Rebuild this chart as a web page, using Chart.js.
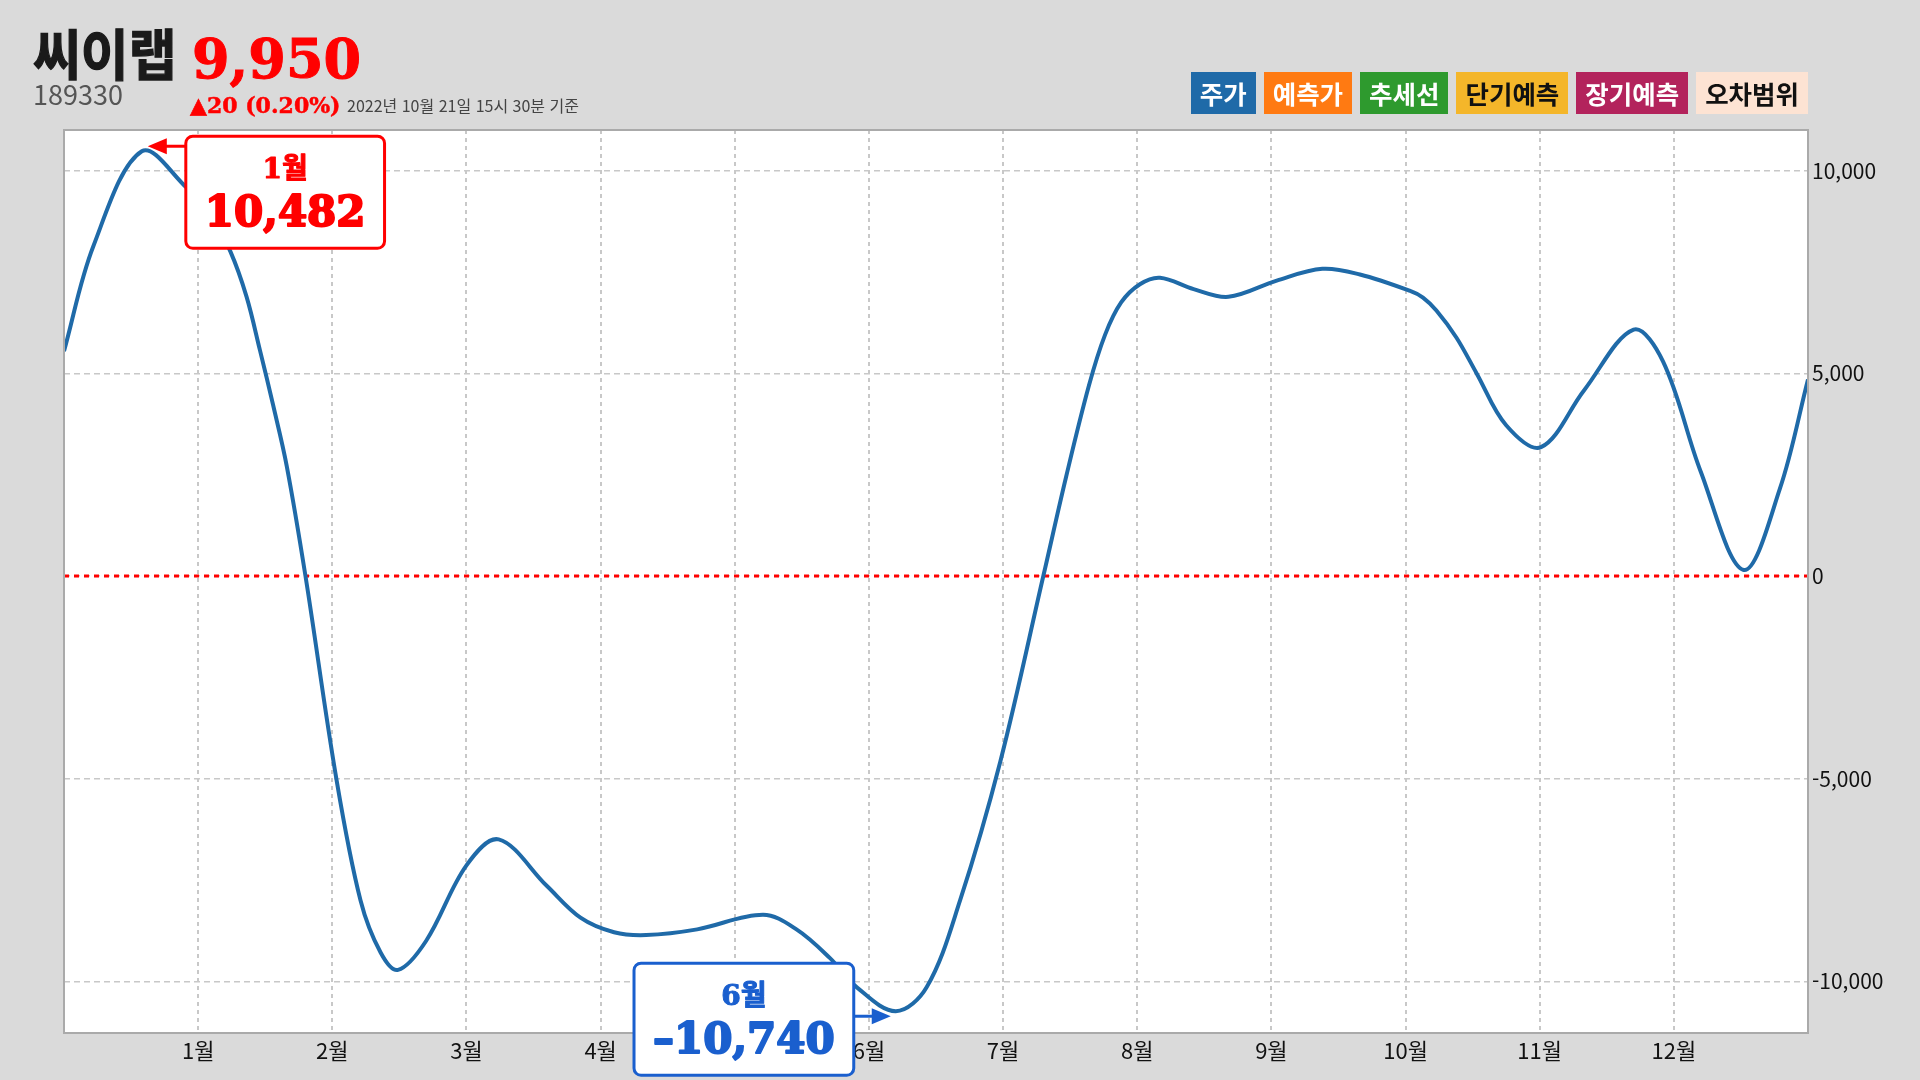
<!DOCTYPE html>
<html lang="ko">
<head>
<meta charset="utf-8">
<script src="https://cdn.jsdelivr.net/npm/chart.js@4.4.0/dist/chart.umd.min.js"></script>
<style>
html, body { margin: 0; padding: 0; background: #dadada; }
#wrap { position: relative; width: 1920px; height: 1080px; overflow: hidden; font-family: "Noto Sans CJK KR", "Noto Sans", sans-serif; }
#chart { position: absolute; left: 0; top: 0; }
.t { position: absolute; white-space: nowrap; line-height: 1; }
#name { left: 33px; top: 25px; font-size: 52px; font-weight: 700; color: #1a1a1a; -webkit-text-stroke: 1.2px #1a1a1a; transform: scale(1, 1.05); transform-origin: left top; }
#price { left: 192px; top: 32px; font-family: "DejaVu Serif", serif; font-size: 54px; font-weight: 700; color: #ff0000; -webkit-text-stroke: 1px #ff0000; }
#code { left: 33px; top: 80px; font-size: 27px; color: #555; }
#change { left: 190px; top: 94px; font-family: "DejaVu Serif", serif; font-size: 22px; font-weight: 700; color: #ff0000; -webkit-text-stroke: 0.5px #ff0000; }
#stamp { left: 347px; top: 97px; font-size: 16px; color: #444; }
#legend { position: absolute; right: 112px; top: 72px; display: flex; gap: 8px; }
#legend span { display: block; height: 42px; line-height: 42px; padding: 0 9px; font-size: 25.5px; font-weight: 700; }
</style>
</head>
<body>
<div id="wrap">
  <canvas id="chart" width="1920" height="1080"></canvas>
  <div class="t" id="name">씨이랩</div>
  <div class="t" id="price">9,950</div>
  <div class="t" id="code">189330</div>
  <div class="t" id="change">▲20 (0.20%)</div>
  <div class="t" id="stamp">2022년 10월 21일 15시 30분 기준</div>
  <div id="legend"></div>
</div>
<script>
// 월 위치(0 = 시작, 13 = 끝)와 값 - 그림에서 읽은 값
const monthPos = [0, 0.22, 0.58, 0.915, 1.09, 1.24, 1.36, 1.46, 1.56, 1.66, 1.80, 2.03, 2.21, 2.36, 2.49, 2.70, 3.0, 3.24,
    3.60, 3.85, 4.10, 4.34, 4.72, 5.21, 5.46, 5.71, 5.91, 6.20, 6.43, 6.68, 6.98, 7.30, 7.47, 7.64, 7.76, 7.88, 8.02,
    8.17, 8.42, 8.68, 9.04, 9.38, 9.66, 10.03, 10.13, 10.23, 10.38, 10.53, 10.75, 11.01, 11.33, 11.70, 11.92,
    12.20, 12.52, 12.79, 13.0];
const values = [5550, 8150, 10482, 9580, 8950, 8010, 6900, 5580, 4200, 2720, 0, -5000, -8000, -9290, -9720, -9000, -7140, -6500,
    -7650, -8430, -8790, -8860, -8720, -8360, -8720, -9430, -10150, -10740, -10150, -8000, -4570, 0, 2450, 4700, 5950, 6750, 7200,
    7360, 7080, 6890, 7290, 7580, 7440, 7040, 6870, 6550, 5880, 5000, 3720, 3180, 4580, 6080, 5290,
    2580, 150, 2150, 4850];
const monthLabels = ['1월', '2월', '3월', '4월', '5월', '6월', '7월', '8월', '9월', '10월', '11월', '12월'];
const yTicks = [-10000, -5000, 0, 5000, 10000];

const legendNames = ['주가', '예측가', '추세선', '단기예측', '장기예측', '오차범위'];
const legendColors = ['#1f6aa8', '#ff7a12', '#2e9a2e', '#f4b62a', '#b3235c', '#fde3d3'];
const legendText = ['#fff', '#fff', '#fff', '#111', '#fff', '#111'];

const legendBox = document.getElementById('legend');
legendNames.forEach((n, i) => {
    const s = document.createElement('span');
    s.textContent = n;
    s.style.background = legendColors[i];
    s.style.color = legendText[i];
    legendBox.appendChild(s);
});

const maxVal = Math.max(...values);
const minVal = Math.min(...values);

//차트 영역 흰 배경
const plotBg = {
    id: 'plotBg',
    beforeDraw(chart) {
        const { ctx, chartArea: { left, top, width, height } } = chart;
        ctx.save();
        ctx.fillStyle = '#ffffff';
        ctx.fillRect(left, top, width, height);
        ctx.restore();
    }
};

//0 기준선 (빨간 점선)
const zeroLine = {
    id: 'zeroLine',
    beforeDatasetsDraw(chart) {
        const { ctx, chartArea: { left, right }, scales: { y } } = chart;
        const yy = y.getPixelForValue(0);
        ctx.save();
        ctx.strokeStyle = '#ff0000';
        ctx.lineWidth = 3;
        ctx.setLineDash([5, 5]);
        ctx.beginPath();
        ctx.moveTo(left, yy);
        ctx.lineTo(right, yy);
        ctx.stroke();
        ctx.restore();
    }
};

//테두리
const frame = {
    id: 'frame',
    afterDatasetsDraw(chart) {
        const { ctx, chartArea: { left, top, width, height } } = chart;
        ctx.save();
        ctx.strokeStyle = '#aaaaaa';
        ctx.lineWidth = 2;
        ctx.strokeRect(left, top, width, height);
        ctx.restore();
    }
};

function roundRect(ctx, x, y, w, h, r) {
    ctx.beginPath();
    ctx.moveTo(x + r, y);
    ctx.arcTo(x + w, y, x + w, y + h, r);
    ctx.arcTo(x + w, y + h, x, y + h, r);
    ctx.arcTo(x, y + h, x, y, r);
    ctx.arcTo(x, y, x + w, y, r);
    ctx.closePath();
}

function drawTag(ctx, color, tipX, tipY, dir, boxX, boxY, label, num) {
    ctx.save();
    ctx.font = 'bold 42px "DejaVu Serif", "Noto Sans CJK KR"';
    const w = ctx.measureText(num).width + 38;
    const h = 112;
    const bx = dir > 0 ? boxX : boxX - w;
    // 화살표
    ctx.strokeStyle = color;
    ctx.fillStyle = color;
    ctx.lineWidth = 3;
    ctx.beginPath();
    ctx.moveTo(dir > 0 ? bx : bx + w, tipY);
    ctx.lineTo(tipX + dir * 18, tipY);
    ctx.stroke();
    ctx.beginPath();
    ctx.moveTo(tipX, tipY);
    ctx.lineTo(tipX + dir * 19, tipY - 8);
    ctx.lineTo(tipX + dir * 19, tipY + 8);
    ctx.closePath();
    ctx.fill();
    // 박스
    roundRect(ctx, bx, boxY, w, h, 7);
    ctx.fillStyle = '#ffffff';
    ctx.fill();
    ctx.lineWidth = 3;
    ctx.strokeStyle = color;
    ctx.stroke();
    // 글자
    ctx.fillStyle = color;
    ctx.textAlign = 'center';
    ctx.textBaseline = 'alphabetic';
    ctx.lineJoin = 'round';
    ctx.font = 'bold 28px "DejaVu Serif", "Noto Sans CJK KR"';
    ctx.lineWidth = 1;
    ctx.fillText(label, bx + w / 2, boxY + 42);
    ctx.strokeText(label, bx + w / 2, boxY + 42);
    ctx.font = 'bold 42px "DejaVu Serif", "Noto Sans CJK KR"';
    ctx.lineWidth = 2;
    ctx.fillText(num, bx + w / 2, boxY + 90);
    ctx.strokeText(num, bx + w / 2, boxY + 90);
    ctx.restore();
}

//최고/최저 표시
const extremes = {
    id: 'extremes',
    afterDraw(chart) {
        const { ctx, scales: { x, y } } = chart;
        const iMax = values.indexOf(maxVal);
        const iMin = values.indexOf(minVal);
        const px1 = x.getPixelForValue(monthPos[iMax]), py1 = y.getPixelForValue(maxVal);
        const px2 = x.getPixelForValue(monthPos[iMin]), py2 = y.getPixelForValue(minVal);
        drawTag(ctx, '#ff0000', px1 + 6, py1 - 5, 1, px1 + 44, py1 - 15,
            monthLabels[Math.round(monthPos[iMax]) - 1], maxVal.toLocaleString('en-US'));
        drawTag(ctx, '#1a5fce', px2 - 5, py2 + 5, -1, px2 - 42, py2 - 48,
            monthLabels[Math.round(monthPos[iMin]) - 1], '–' + Math.abs(minVal).toLocaleString('en-US'));
    }
};

const data = {
    datasets: [{
        data: monthPos.map((m, i) => ({ x: m, y: values[i] })),
        borderColor: '#1f6aa8',
        borderWidth: 4,
        pointRadius: 0,
        tension: 0.35,
        fill: false
    }]
};

const config = {
    type: 'line',
    data,
    options: {
        responsive: false,
        animation: false,
        layout: { padding: { left: 64, top: 130, right: 0, bottom: 0 } },
        scales: {
            x: {
                type: 'linear',
                min: 0,
                max: 13,
                afterBuildTicks: (s) => { s.ticks = [0, 1, 2, 3, 4, 5, 6, 7, 8, 9, 10, 11, 12, 13].map(v => ({ value: v })); },
                afterFit: (s) => { s.height = 47; },
                ticks: {
                    callback: (v) => monthLabels[v - 1] || '',
                    color: '#111',
                    padding: 4,
                    maxRotation: 0,
                    autoSkip: false,
                    font: { family: '"Noto Sans CJK KR"', size: 22 }
                },
                grid: { color: '#c8c8c8', lineWidth: 2, drawTicks: false },
                border: { display: false, dash: [4, 4] }
            },
            y: {
                position: 'right',
                min: minVal * 1.05,
                max: maxVal * 1.05,
                afterBuildTicks: (s) => { s.ticks = yTicks.map(v => ({ value: v })); },
                afterFit: (s) => { s.width = 112; },
                ticks: {
                    callback: (v) => v.toLocaleString('en-US'),
                    color: '#111',
                    padding: 4,
                    font: { family: '"Noto Sans CJK KR"', size: 21 }
                },
                grid: { color: '#c8c8c8', lineWidth: 1.5, drawTicks: false },
                border: { display: false, dash: [6, 4] }
            }
        },
        plugins: {
            legend: { display: false },
            tooltip: { enabled: false }
        }
    },
    plugins: [plotBg, zeroLine, frame, extremes]
};

var chart = new Chart(document.getElementById('chart'), config);
</script>
</body>
</html>
